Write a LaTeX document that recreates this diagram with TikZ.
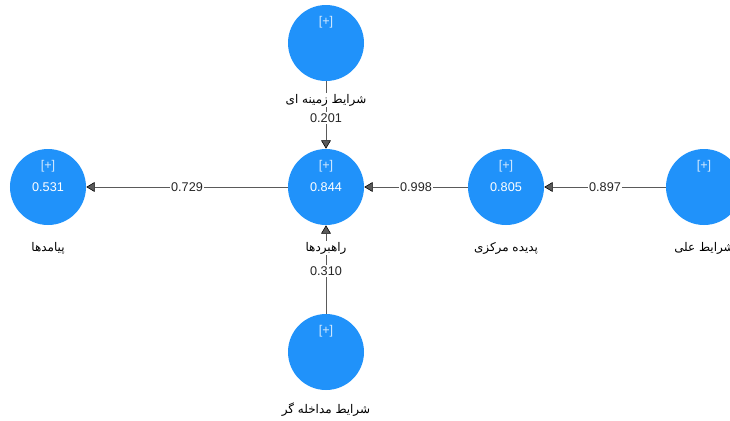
\documentclass[tikz,border=0pt]{standalone}
\usepackage{fontspec}
\setmainfont{Liberation Sans}
\newfontfamily\arabicfont[Script=Arabic]{DejaVu Sans}
\TeXXeTstate=1
\usetikzlibrary{arrows.meta, positioning}
\definecolor{plsblue}{RGB}{32,146,250}
\definecolor{edgegray}{RGB}{90,90,90}
\newcommand{\fa}[1]{{\arabicfont\beginR #1\endR}}

\begin{document}
\begin{tikzpicture} [on grid, font=\fontsize{9}{10}\selectfont,
  construct/.style = {circle, fill=plsblue, minimum size=1.9cm, inner sep=0pt, text=white},
  plus/.style = {inner sep=0pt, text=white!80!plsblue},
  cname/.style = {fill=white, inner sep=1pt, font=\fontsize{8.5}{9}\selectfont},
  weight/.style = {fill=white, inner sep=1pt, text=black!85}]

\useasboundingbox (-8.15,4.675) rectangle (10.1,-5.825);

\node (rah) [construct] {0.844};
\node (payamad) [construct, left = 6.95cm of rah] {0.531};
\node (padideh) [construct, right = 4.5cm of rah] {0.805};
\node (elli) [construct, right = 4.95cm of padideh] {};
\node (zamineh) [construct, above = 3.6cm of rah] {};
\node (modakhele) [construct, below = 4.125cm of rah] {};

% [+]
\node (rah-plus) [plus, above = 0.53cm of rah] {[+]};
\node (payamad-plus) [plus, above = 0.53cm of payamad] {[+]};
\node (padideh-plus) [plus, above = 0.53cm of padideh] {[+]};
\node (elli-plus) [plus, above = 0.53cm of elli] {[+]};
\node (zamineh-plus) [plus, above = 0.53cm of zamineh] {[+]};
\node (modakhele-plus) [plus, above = 0.53cm of modakhele] {[+]};

\path [-{Triangle[length=6pt, width=7pt, color=black]}, edgegray]
  (elli) edge node [weight] {0.897} (padideh);
\path [-{Triangle[length=6pt, width=7pt, color=black]}, edgegray]
  (padideh) edge node [weight] {0.998} (rah);
\path [-{Triangle[length=6pt, width=7pt, color=black]}, edgegray]
  (rah) edge node [weight] {0.729} (payamad);
\path [-{Triangle[length=6pt, width=7pt, color=black]}, edgegray]
  (zamineh) edge node [weight, pos=0.55] {0.201} (rah);
\path [-{Triangle[length=6pt, width=7pt, color=black]}, edgegray]
  (modakhele) edge node [weight, pos=0.48] {0.310} (rah);

% names
\node (rah-name) [cname, below = 1.525cm of rah] {\fa{راهبردها}};
\node (payamad-name) [cname, below = 1.525cm of payamad] {\fa{پیامدها}};
\node (padideh-name) [cname, below = 1.525cm of padideh] {\fa{پدیده مرکزی}};
\node (elli-name) [cname, below = 1.525cm of elli] {\fa{شرایط علی}};
\node (zamineh-name) [cname, below = 1.425cm of zamineh] {\fa{شرایط زمینه ای}};
\node (modakhele-name) [cname, below = 1.45cm of modakhele] {\fa{شرایط مداخله گر}};

\end{tikzpicture}
\end{document}
